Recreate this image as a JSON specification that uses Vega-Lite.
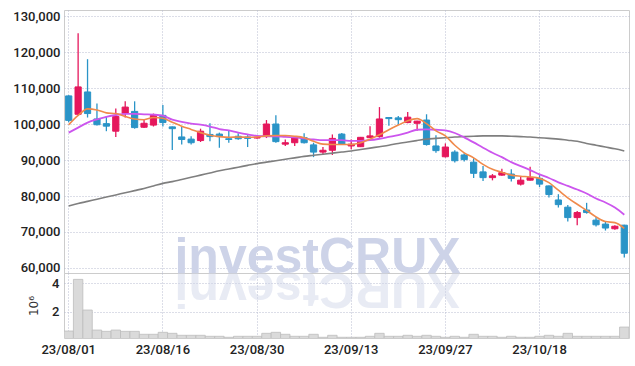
{
  "$schema": "https://vega.github.io/schema/vega-lite/v6.json",
  "padding": {"left": 12, "top": 9, "right": 8, "bottom": 5},
  "background": "#ffffff",
  "spacing": 0,
  "bounds": "flush",
  "config": {
    "view": {"stroke": "#cccccc", "strokeWidth": 1},
    "axis": {
      "labelFont": "Roboto",
      "labelFontSize": 13,
      "labelFontWeight": 500,
      "labelColor": "#222222",
      "labelOverlap": false,
      "gridColor": "#b9bdd0",
      "gridDash": [1, 2],
      "gridWidth": 1,
      "domain": false,
      "ticks": false
    }
  },
  "data": {
    "values": [
      {"d": "23/08/01", "o": 107800, "h": 108000, "l": 100500, "c": 101000, "v": 0.64, "m5": 99800, "m20": 97600, "m120": 77200},
      {"d": "23/08/02", "o": 102700, "h": 125200, "l": 102300, "c": 110300, "v": 4.28, "m5": 102400, "m20": 99000, "m120": 77900},
      {"d": "23/08/03", "o": 108900, "h": 118000, "l": 101800, "c": 102900, "v": 2.12, "m5": 104200, "m20": 100400, "m120": 78500},
      {"d": "23/08/04", "o": 101400, "h": 105700, "l": 99600, "c": 99800, "v": 0.71, "m5": 103900, "m20": 101300, "m120": 79100},
      {"d": "23/08/07", "o": 100100, "h": 102200, "l": 98000, "c": 99400, "v": 0.62, "m5": 103100, "m20": 102000, "m120": 79700},
      {"d": "23/08/08", "o": 98000, "h": 104300, "l": 96400, "c": 102100, "v": 0.71, "m5": 102900, "m20": 102500, "m120": 80300},
      {"d": "23/08/09", "o": 103000, "h": 106300, "l": 101800, "c": 104700, "v": 0.62, "m5": 102100, "m20": 102800, "m120": 80900},
      {"d": "23/08/10", "o": 103500, "h": 106300, "l": 98700, "c": 99000, "v": 0.62, "m5": 101400, "m20": 102800, "m120": 81500},
      {"d": "23/08/11", "o": 99100, "h": 101100, "l": 98900, "c": 100200, "v": 0.41, "m5": 101200, "m20": 102700, "m120": 82100},
      {"d": "23/08/14", "o": 99700, "h": 102900, "l": 99300, "c": 102400, "v": 0.41, "m5": 101800, "m20": 102600, "m120": 82800},
      {"d": "23/08/16", "o": 102400, "h": 105300, "l": 99300, "c": 100400, "v": 0.55, "m5": 101600, "m20": 102300, "m120": 83500},
      {"d": "23/08/17", "o": 99200, "h": 99300, "l": 92800, "c": 98700, "v": 0.48, "m5": 100500, "m20": 101200, "m120": 84000},
      {"d": "23/08/18", "o": 96400, "h": 99200, "l": 94300, "c": 95700, "v": 0.34, "m5": 99400, "m20": 100600, "m120": 84600},
      {"d": "23/08/21", "o": 95800, "h": 96600, "l": 94300, "c": 94800, "v": 0.34, "m5": 98500, "m20": 100100, "m120": 85200},
      {"d": "23/08/22", "o": 95400, "h": 98700, "l": 95000, "c": 98000, "v": 0.34, "m5": 97600, "m20": 99800, "m120": 85800},
      {"d": "23/08/23", "o": 97100, "h": 100200, "l": 95200, "c": 96500, "v": 0.27, "m5": 96900, "m20": 99300, "m120": 86400},
      {"d": "23/08/24", "o": 97200, "h": 97600, "l": 93400, "c": 96500, "v": 0.27, "m5": 96500, "m20": 98600, "m120": 87000},
      {"d": "23/08/25", "o": 95900, "h": 98300, "l": 94800, "c": 95700, "v": 0.2, "m5": 96300, "m20": 98200, "m120": 87500},
      {"d": "23/08/28", "o": 96600, "h": 97400, "l": 95600, "c": 95900, "v": 0.27, "m5": 96400, "m20": 97600, "m120": 88000},
      {"d": "23/08/29", "o": 96400, "h": 96900, "l": 93600, "c": 96000, "v": 0.27, "m5": 96300, "m20": 97100, "m120": 88500},
      {"d": "23/08/30", "o": 96100, "h": 96600, "l": 95900, "c": 96300, "v": 0.27, "m5": 96400, "m20": 96700, "m120": 89000},
      {"d": "23/08/31", "o": 96600, "h": 101100, "l": 96100, "c": 100000, "v": 0.48, "m5": 96700, "m20": 96600, "m120": 89400},
      {"d": "23/09/01", "o": 100000, "h": 102400, "l": 94800, "c": 95100, "v": 0.55, "m5": 96800, "m20": 96600, "m120": 89800},
      {"d": "23/09/04", "o": 94400, "h": 95700, "l": 93900, "c": 94800, "v": 0.41, "m5": 96800, "m20": 96400, "m120": 90200},
      {"d": "23/09/05", "o": 94800, "h": 96400, "l": 93900, "c": 96300, "v": 0.27, "m5": 96600, "m20": 96300, "m120": 90600},
      {"d": "23/09/06", "o": 96200, "h": 97400, "l": 94600, "c": 94800, "v": 0.27, "m5": 96200, "m20": 96000, "m120": 91000},
      {"d": "23/09/07", "o": 94200, "h": 94800, "l": 90800, "c": 92200, "v": 0.41, "m5": 95200, "m20": 95700, "m120": 91300},
      {"d": "23/09/08", "o": 92200, "h": 93600, "l": 91400, "c": 92700, "v": 0.2, "m5": 94400, "m20": 95500, "m120": 91600},
      {"d": "23/09/11", "o": 92700, "h": 97100, "l": 91400, "c": 96000, "v": 0.34, "m5": 94300, "m20": 95500, "m120": 91900},
      {"d": "23/09/12", "o": 97200, "h": 97500, "l": 94300, "c": 94400, "v": 0.2, "m5": 94300, "m20": 95500, "m120": 92200},
      {"d": "23/09/13", "o": 93900, "h": 95700, "l": 93000, "c": 94400, "v": 0.2, "m5": 94300, "m20": 95300, "m120": 92500},
      {"d": "23/09/14", "o": 93700, "h": 96400, "l": 93600, "c": 96300, "v": 0.2, "m5": 94800, "m20": 95300, "m120": 92900},
      {"d": "23/09/15", "o": 96200, "h": 99400, "l": 96100, "c": 96700, "v": 0.27, "m5": 95800, "m20": 95500, "m120": 93300},
      {"d": "23/09/18", "o": 96500, "h": 104700, "l": 96200, "c": 101400, "v": 0.48, "m5": 97000, "m20": 95900, "m120": 93700},
      {"d": "23/09/19", "o": 101800, "h": 101900, "l": 99500, "c": 101500, "v": 0.27, "m5": 98400, "m20": 96400, "m120": 94100},
      {"d": "23/09/20", "o": 101700, "h": 102200, "l": 99700, "c": 101200, "v": 0.27, "m5": 99700, "m20": 96900, "m120": 94600},
      {"d": "23/09/21", "o": 100400, "h": 103300, "l": 100200, "c": 101900, "v": 0.34, "m5": 100900, "m20": 97600, "m120": 95000},
      {"d": "23/09/22", "o": 100200, "h": 100900, "l": 98100, "c": 100800, "v": 0.27, "m5": 101500, "m20": 98400, "m120": 95400},
      {"d": "23/09/25", "o": 101100, "h": 102700, "l": 94000, "c": 94300, "v": 0.34, "m5": 100100, "m20": 98500, "m120": 95800},
      {"d": "23/09/26", "o": 93900, "h": 96900, "l": 92000, "c": 92600, "v": 0.27, "m5": 98100, "m20": 98400, "m120": 96000},
      {"d": "23/09/27", "o": 90900, "h": 94600, "l": 90700, "c": 93600, "v": 0.2, "m5": 96700, "m20": 98200, "m120": 96200},
      {"d": "23/10/04", "o": 92200, "h": 92700, "l": 89300, "c": 89800, "v": 0.27, "m5": 94100, "m20": 97500, "m120": 96400},
      {"d": "23/10/05", "o": 91400, "h": 91900, "l": 89600, "c": 90100, "v": 0.2, "m5": 92000, "m20": 96300, "m120": 96500},
      {"d": "23/10/06", "o": 89400, "h": 90500, "l": 85000, "c": 86300, "v": 0.41, "m5": 90600, "m20": 94900, "m120": 96600},
      {"d": "23/10/10", "o": 86700, "h": 88300, "l": 84200, "c": 85100, "v": 0.27, "m5": 88800, "m20": 93400, "m120": 96700},
      {"d": "23/10/11", "o": 85100, "h": 86100, "l": 84350, "c": 85600, "v": 0.27, "m5": 87400, "m20": 92000, "m120": 96700},
      {"d": "23/10/12", "o": 85800, "h": 87600, "l": 85600, "c": 86500, "v": 0.2, "m5": 86600, "m20": 90800, "m120": 96700},
      {"d": "23/10/13", "o": 86100, "h": 87400, "l": 84000, "c": 84900, "v": 0.27, "m5": 85800, "m20": 89400, "m120": 96600},
      {"d": "23/10/16", "o": 83300, "h": 85400, "l": 82900, "c": 84400, "v": 0.2, "m5": 85500, "m20": 88300, "m120": 96500},
      {"d": "23/10/17", "o": 84400, "h": 88100, "l": 84300, "c": 85100, "v": 0.2, "m5": 85300, "m20": 87200, "m120": 96400},
      {"d": "23/10/18", "o": 84900, "h": 85800, "l": 82500, "c": 83300, "v": 0.27, "m5": 84900, "m20": 86000, "m120": 96200},
      {"d": "23/10/19", "o": 82800, "h": 82900, "l": 79600, "c": 80400, "v": 0.34, "m5": 83700, "m20": 85000, "m120": 96000},
      {"d": "23/10/20", "o": 78900, "h": 80500, "l": 76800, "c": 77600, "v": 0.27, "m5": 81600, "m20": 83800, "m120": 95800},
      {"d": "23/10/23", "o": 76900, "h": 77500, "l": 72900, "c": 74000, "v": 0.48, "m5": 79500, "m20": 82800, "m120": 95500},
      {"d": "23/10/24", "o": 74000, "h": 75800, "l": 71900, "c": 75400, "v": 0.27, "m5": 77700, "m20": 81800, "m120": 95200},
      {"d": "23/10/25", "o": 76100, "h": 78100, "l": 75100, "c": 75400, "v": 0.27, "m5": 76000, "m20": 80700, "m120": 94600},
      {"d": "23/10/26", "o": 73300, "h": 74200, "l": 71500, "c": 72000, "v": 0.27, "m5": 74200, "m20": 79300, "m120": 94100},
      {"d": "23/10/27", "o": 72200, "h": 72800, "l": 70400, "c": 71100, "v": 0.27, "m5": 72900, "m20": 78200, "m120": 93600},
      {"d": "23/10/30", "o": 70900, "h": 71900, "l": 70600, "c": 71600, "v": 0.27, "m5": 72600, "m20": 76800, "m120": 93100},
      {"d": "23/10/31", "o": 71900, "h": 72000, "l": 62900, "c": 64100, "v": 0.92, "m5": 71000, "m20": 74800, "m120": 92500}
    ]
  },
  "vconcat": [
    {
      "width": 565,
      "height": 263,
      "encoding": {
        "x": {
          "field": "d", "type": "ordinal", "sort": null,
          "scale": {"type": "band", "paddingInner": 0, "paddingOuter": 0},
          "axis": {"labels": false, "grid": true, "title": null,
                   "values": ["23/08/01", "23/08/16", "23/08/30", "23/09/13", "23/09/27", "23/10/18"]}
        }
      },
      "layer": [
        {
          "mark": {"type": "rule", "strokeWidth": 1.3},
          "encoding": {
            "y": {"field": "l", "type": "quantitative", "title": null,
                  "scale": {"domain": [58611, 131667], "zero": false, "nice": false},
                  "axis": {"values": [60000, 70000, 80000, 90000, 100000, 110000, 120000, 130000], "tickCount": 8, "labelOverlap": false, "format": ",d", "title": null, "grid": true, "labelPadding": 4}},
            "y2": {"field": "h"},
            "color": {"condition": {"test": "datum.c >= datum.o", "value": "#e5175c"}, "value": "#2a94c7"}
          }
        },
        {
          "mark": {"type": "bar", "width": {"band": 0.66}, "strokeWidth": 1},
          "encoding": {
            "y": {"field": "o", "type": "quantitative", "title": null, "scale": {"domain": [58611, 131667], "zero": false, "nice": false},
                  "axis": {"values": [60000, 70000, 80000, 90000, 100000, 110000, 120000, 130000], "tickCount": 8, "labelOverlap": false, "format": ",d", "title": null, "grid": true, "labelPadding": 4}},
            "y2": {"field": "c"},
            "color": {"condition": {"test": "datum.c >= datum.o", "value": "#e5175c"}, "value": "#2a94c7"},
            "stroke": {"condition": {"test": "datum.c >= datum.o", "value": "#e5175c"}, "value": "#2a94c7"}
          }
        },
        {
          "mark": {"type": "line", "color": "#7f7f7f", "strokeWidth": 1.6, "interpolate": "monotone"},
          "encoding": {"y": {"field": "m120", "type": "quantitative", "title": null, "scale": {"domain": [58611, 131667], "zero": false, "nice": false},
                  "axis": {"values": [60000, 70000, 80000, 90000, 100000, 110000, 120000, 130000], "tickCount": 8, "labelOverlap": false, "format": ",d", "title": null, "grid": true, "labelPadding": 4}}}
        },
        {
          "mark": {"type": "line", "color": "#cc55ee", "strokeWidth": 1.8, "interpolate": "monotone"},
          "encoding": {"y": {"field": "m20", "type": "quantitative", "title": null, "scale": {"domain": [58611, 131667], "zero": false, "nice": false},
                  "axis": {"values": [60000, 70000, 80000, 90000, 100000, 110000, 120000, 130000], "tickCount": 8, "labelOverlap": false, "format": ",d", "title": null, "grid": true, "labelPadding": 4}}}
        },
        {
          "mark": {"type": "line", "color": "#f08a4b", "strokeWidth": 1.6, "interpolate": "monotone"},
          "encoding": {"y": {"field": "m5", "type": "quantitative", "title": null, "scale": {"domain": [58611, 131667], "zero": false, "nice": false},
                  "axis": {"values": [60000, 70000, 80000, 90000, 100000, 110000, 120000, 130000], "tickCount": 8, "labelOverlap": false, "format": ",d", "title": null, "grid": true, "labelPadding": 4}}}
        },
        {
          "data": {"values": [{"t": "investCRUX"}]},
          "mark": {"type": "text", "font": "Liberation Sans", "fontWeight": "bold", "fontSize": 50, "color": "#cdd3e8", "align": "center", "baseline": "alphabetic", "dx": 4},
          "encoding": {
            "x": {"datum": "23/09/07", "type": "ordinal", "scale": {"type": "band", "paddingInner": 0, "paddingOuter": 0}},
            "y": {"datum": 58611, "type": "quantitative", "scale": {"domain": [58611, 131667], "zero": false, "nice": false},
                  "axis": {"values": [60000, 70000, 80000, 90000, 100000, 110000, 120000, 130000], "tickCount": 8, "labelOverlap": false, "format": ",d", "title": null, "grid": true, "labelPadding": 4}},
            "text": {"field": "t"}
          }
        }
      ]
    },
    {
      "width": 565,
      "height": 65,
      "encoding": {
        "x": {
          "field": "d", "type": "ordinal", "sort": null,
          "scale": {"type": "band", "paddingInner": 0, "paddingOuter": 0},
          "axis": {"grid": true, "title": null, "labelAngle": 0, "labelPadding": 5,
                   "values": ["23/08/01", "23/08/16", "23/08/30", "23/09/13", "23/09/27", "23/10/18"]}
        }
      },
      "layer": [
        {
          "mark": {"type": "bar", "fill": "#dadada", "stroke": "#bdbdbd", "strokeWidth": 0.8, "clip": true},
          "encoding": {
            "y": {"field": "v", "type": "quantitative",
                  "scale": {"domain": [0.15, 4.73], "zero": false, "nice": false},
                  "axis": {"values": [2, 4], "grid": true, "title": "10⁶", "titleFontWeight": "normal", "titleFontSize": 12, "titleColor": "#333333", "titleFont": "DejaVu Sans", "titlePadding": 11, "labelPadding": 5}}
          }
        },
        {
          "data": {"values": [{"t": "XURCtsevni"}]},
          "mark": {"type": "text", "font": "Liberation Sans", "fontWeight": "bold", "fontSize": 50, "color": "#cdd3e8", "opacity": 0.45, "align": "center", "baseline": "alphabetic", "angle": 180, "dx": -4},
          "encoding": {
            "x": {"datum": "23/09/07", "type": "ordinal", "scale": {"type": "band", "paddingInner": 0, "paddingOuter": 0}},
            "y": {"datum": 4.73, "type": "quantitative", "scale": {"domain": [0.15, 4.73], "zero": false, "nice": false},
                  "axis": {"values": [2, 4], "grid": true, "title": "10⁶", "titleFontWeight": "normal", "titleFontSize": 12, "titleColor": "#333333", "titleFont": "DejaVu Sans", "titlePadding": 11, "labelPadding": 5}},
            "text": {"field": "t"}
          }
        }
      ]
    }
  ]
}
